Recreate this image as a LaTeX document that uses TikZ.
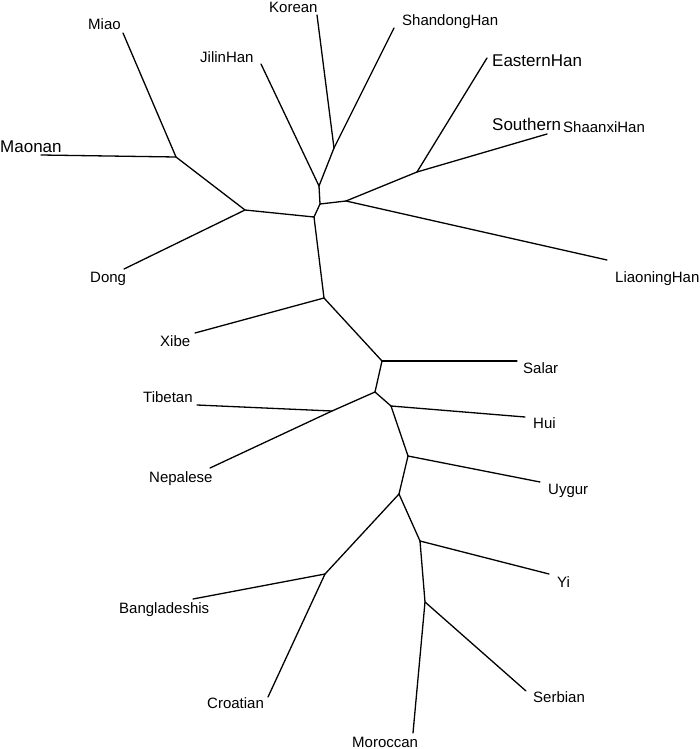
\documentclass[tikz,border=0pt]{standalone}
\usepackage{fontspec}
\setmainfont{Liberation Sans}
\begin{document}
\begin{tikzpicture}[x=1pt,y=-1pt,
  branch/.style={line width=1.3pt,line cap=round,line join=round},
  lbl/.style={anchor=base west,inner sep=0pt,font=\fontsize{15}{18}\selectfont},
  biglbl/.style={anchor=base west,inner sep=0pt,font=\fontsize{17}{20}\selectfont}]
\useasboundingbox (0,0) rectangle (700,749);
% internal nodes
\coordinate (nMiao) at (176,157);
\coordinate (nDong) at (245,210);
\coordinate (C) at (314,217);
\coordinate (B) at (320,204);
\coordinate (A) at (319,186);
\coordinate (K1) at (334,148);
\coordinate (D) at (346,201);
\coordinate (E) at (417,172);
\coordinate (F) at (324,298);
\coordinate (G) at (382,361);
\coordinate (H) at (375,392);
\coordinate (I) at (332,411);
\coordinate (J) at (391,406);
\coordinate (K) at (408,456);
\coordinate (L) at (399,494);
\coordinate (M) at (325,574);
\coordinate (N) at (420,541);
\coordinate (O) at (425,602);
% tips
\coordinate (tMiao) at (123,33);
\coordinate (tMaonan) at (41,155);
\coordinate (tDong) at (124,269);
\coordinate (tKorean) at (317,15);
\coordinate (tJilin) at (261,64);
\coordinate (tShandong) at (394,28);
\coordinate (tEastern) at (487,58);
\coordinate (tSouthern) at (547,134);
\coordinate (tLiaoning) at (607,260);
\coordinate (tXibe) at (195,333);
\coordinate (tSalar) at (517,361);
\coordinate (tTibetan) at (197,405);
\coordinate (tNepalese) at (210,468);
\coordinate (tHui) at (525,417);
\coordinate (tUygur) at (540,482);
\coordinate (tYi) at (549,574);
\coordinate (tBangla) at (193,599);
\coordinate (tCroatian) at (268,697);
\coordinate (tMoroccan) at (413,733);
\coordinate (tSerbian) at (526,691);
% labels
\node[lbl] (lMiao) at (88,30) {Miao};
\node[biglbl] (lMaonan) at (0,153) {Maonan};
\node[lbl] (lKorean) at (269,13) {Korean};
\node[lbl] (lJilin) at (200,63) {JilinHan};
\node[lbl] (lShandong) at (402,26) {ShandongHan};
\node[biglbl] (lEastern) at (492,67) {EasternHan};
\node[biglbl] (lSouthern) at (492,131) {Southern};
\node[lbl] (lShaanxi) at (563,132) {ShaanxiHan};
\node[lbl] (lLiaoning) at (615,282) {LiaoningHan};
\node[lbl] (lDong) at (90,282) {Dong};
\node[lbl] (lXibe) at (160,346) {Xibe};
\node[lbl] (lSalar) at (523,373) {Salar};
\node[lbl] (lTibetan) at (143,402) {Tibetan};
\node[lbl] (lHui) at (533,428) {Hui};
\node[lbl] (lNepalese) at (149,482) {Nepalese};
\node[lbl] (lUygur) at (548,494) {Uygur};
\node[lbl] (lYi) at (557,587) {Yi};
\node[lbl] (lBangla) at (119,613) {Bangladeshis};
\node[lbl] (lSerbian) at (533,702) {Serbian};
\node[lbl] (lCroatian) at (207,708) {Croatian};
\node[lbl] (lMoroccan) at (352,747) {Moroccan};
% branches
\draw[branch] (nMiao) -- (tMiao);
\draw[branch] (nMiao) -- (tMaonan);
\draw[branch] (nMiao) -- (nDong);
\draw[branch] (nDong) -- (tDong);
\draw[branch] (nDong) -- (C);
\draw[branch] (C) -- (B);
\draw[branch] (B) -- (A);
\draw[branch] (A) -- (tJilin);
\draw[branch] (A) -- (K1);
\draw[branch] (K1) -- (tKorean);
\draw[branch] (K1) -- (tShandong);
\draw[branch] (B) -- (D);
\draw[branch] (D) -- (tLiaoning);
\draw[branch] (D) -- (E);
\draw[branch] (E) -- (tEastern);
\draw[branch] (E) -- (tSouthern);
\draw[branch] (C) -- (F);
\draw[branch] (F) -- (tXibe);
\draw[branch] (F) -- (G);
\draw[branch] (G) -- (tSalar);
\draw[branch] (G) -- (H);
\draw[branch] (H) -- (I);
\draw[branch] (I) -- (tTibetan);
\draw[branch] (I) -- (tNepalese);
\draw[branch] (H) -- (J);
\draw[branch] (J) -- (tHui);
\draw[branch] (J) -- (K);
\draw[branch] (K) -- (tUygur);
\draw[branch] (K) -- (L);
\draw[branch] (L) -- (M);
\draw[branch] (M) -- (tBangla);
\draw[branch] (M) -- (tCroatian);
\draw[branch] (L) -- (N);
\draw[branch] (N) -- (tYi);
\draw[branch] (N) -- (O);
\draw[branch] (O) -- (tMoroccan);
\draw[branch] (O) -- (tSerbian);
\end{tikzpicture}
\end{document}
